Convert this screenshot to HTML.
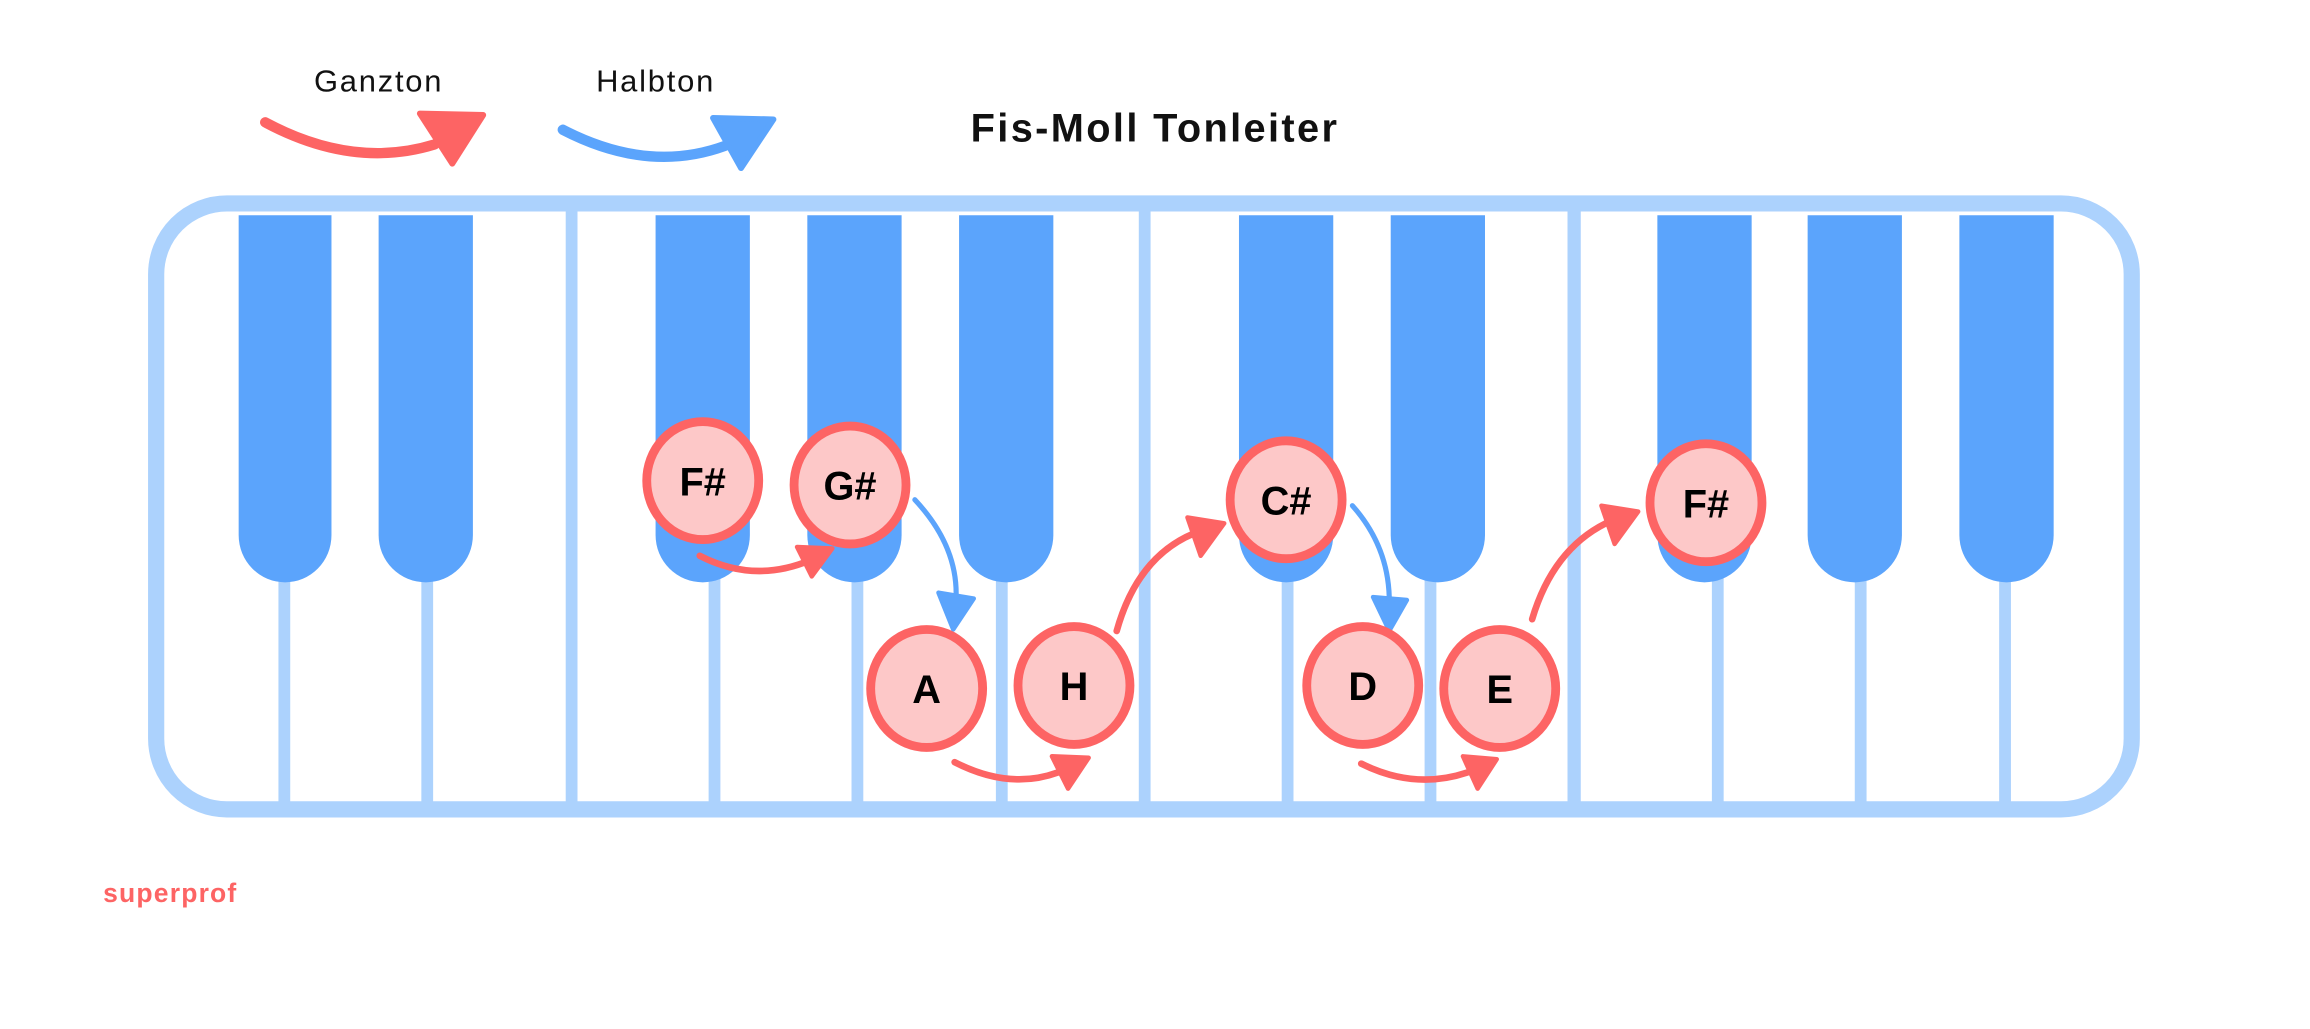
<!DOCTYPE html>
<html><head><meta charset="utf-8"><style>
html,body{margin:0;padding:0;background:#fff;width:2310px;height:1029px;overflow:hidden}
svg{display:block}
text{font-family:"Liberation Sans","DejaVu Sans",sans-serif}
</style></head><body>
<svg width="2310" height="1029" viewBox="0 0 1568 698" preserveAspectRatio="none" xmlns="http://www.w3.org/2000/svg">
<rect width="1568" height="698" fill="#fff"/>
<rect x="106" y="138" width="1341" height="411" rx="48" ry="48" fill="#fff" stroke="#acd2fd" stroke-width="11"/>
<g fill="#acd2fd">
<rect x="384" y="140" width="8" height="410"/>
<rect x="773" y="140" width="8" height="410"/>
<rect x="1064" y="140" width="9" height="410"/>
<rect x="189" y="380" width="8" height="170"/>
<rect x="286" y="380" width="8" height="170"/>
<rect x="481" y="380" width="8" height="170"/>
<rect x="578" y="380" width="8" height="170"/>
<rect x="676" y="380" width="8" height="170"/>
<rect x="870" y="380" width="8" height="170"/>
<rect x="967" y="380" width="8" height="170"/>
<rect x="1162" y="380" width="8" height="170"/>
<rect x="1259" y="380" width="8" height="170"/>
<rect x="1357" y="380" width="8" height="170"/>
</g>
<g fill="#5ba4fc">
<path d="M162,146 h63 v217 a31.5,32 0 0 1 -63,0 z"/>
<path d="M257,146 h64 v217 a32,32 0 0 1 -64,0 z"/>
<path d="M445,146 h64 v217 a32,32 0 0 1 -64,0 z"/>
<path d="M548,146 h64 v217 a32,32 0 0 1 -64,0 z"/>
<path d="M651,146 h64 v217 a32,32 0 0 1 -64,0 z"/>
<path d="M841,146 h64 v217 a32,32 0 0 1 -64,0 z"/>
<path d="M944,146 h64 v217 a32,32 0 0 1 -64,0 z"/>
<path d="M1125,146 h64 v217 a32,32 0 0 1 -64,0 z"/>
<path d="M1227,146 h64 v217 a32,32 0 0 1 -64,0 z"/>
<path d="M1330,146 h64 v217 a32,32 0 0 1 -64,0 z"/>
</g>
<text x="257" y="62" font-size="21" letter-spacing="1.2" text-anchor="middle" fill="#111">Ganzton</text>
<text x="445" y="62" font-size="21" letter-spacing="1.2" text-anchor="middle" fill="#111">Halbton</text>
<path d="M180,83 Q240,115 295,98" fill="none" stroke="#fd6464" stroke-width="7" stroke-linecap="round"/>
<path d="M285,77 L328,78 L307,111 Z" fill="#fd6464" stroke="#fd6464" stroke-width="4" stroke-linejoin="round"/>
<path d="M382,88 Q440,118 492,99" fill="none" stroke="#5ba4fc" stroke-width="7" stroke-linecap="round"/>
<path d="M484,80 L525,81 L503,114 Z" fill="#5ba4fc" stroke="#5ba4fc" stroke-width="4" stroke-linejoin="round"/>
<text x="784" y="96" font-size="27" font-weight="bold" letter-spacing="1.6" text-anchor="middle" fill="#111">Fis-Moll Tonleiter</text>
<text x="70" y="612" font-size="18" font-weight="bold" letter-spacing="0.8" fill="#fd6464">superprof</text>
<g fill="none" stroke-linecap="round">
<path d="M475,377 Q512,396 550,380" stroke="#fd6464" stroke-width="4.5"/>
<path d="M621,339 Q650,370 649,405" stroke="#5ba4fc" stroke-width="3.5"/>
<path d="M648,517 Q685,536 718,524" stroke="#fd6464" stroke-width="4.5"/>
<path d="M758,428 Q772,378 810,362" stroke="#fd6464" stroke-width="4.5"/>
<path d="M918,343 Q942,370 943,405" stroke="#5ba4fc" stroke-width="3.5"/>
<path d="M924,518 Q960,536 996,524" stroke="#fd6464" stroke-width="4.5"/>
<path d="M1040,420 Q1054,373 1090,355" stroke="#fd6464" stroke-width="4.5"/>
</g>
<g stroke-linejoin="round" stroke-width="3">
<path d="M541,371 L565,372 L551,391 Z" fill="#fd6464" stroke="#fd6464"/>
<path d="M637,402 L661,406 L647,427 Z" fill="#5ba4fc" stroke="#5ba4fc"/>
<path d="M714,513 L739,514 L725,535 Z" fill="#fd6464" stroke="#fd6464"/>
<path d="M806,351 L831,355 L815,377 Z" fill="#fd6464" stroke="#fd6464"/>
<path d="M932,405 L955,407 L943,428 Z" fill="#5ba4fc" stroke="#5ba4fc"/>
<path d="M993,513 L1016,515 L1003,535 Z" fill="#fd6464" stroke="#fd6464"/>
<path d="M1087,343 L1112,347 L1096,369 Z" fill="#fd6464" stroke="#fd6464"/>
</g>
<g fill="#fdc8c8" stroke="#fd6464" stroke-width="6">
<ellipse cx="477" cy="326" rx="38" ry="40"/>
<ellipse cx="577" cy="329" rx="38" ry="40"/>
<ellipse cx="873" cy="339" rx="38" ry="40"/>
<ellipse cx="1158" cy="341" rx="38" ry="40"/>
<ellipse cx="629" cy="467" rx="38" ry="40"/>
<ellipse cx="729" cy="465" rx="38" ry="40"/>
<ellipse cx="925" cy="465" rx="38" ry="40"/>
<ellipse cx="1018" cy="467" rx="38" ry="40"/>
</g>
<g font-size="27" font-weight="bold" text-anchor="middle" fill="#000">
<text x="477" y="336">F#</text>
<text x="577" y="339">G#</text>
<text x="873" y="349">C#</text>
<text x="1158" y="351">F#</text>
<text x="629" y="477">A</text>
<text x="729" y="475">H</text>
<text x="925" y="475">D</text>
<text x="1018" y="477">E</text>
</g>
</svg>
</body></html>
